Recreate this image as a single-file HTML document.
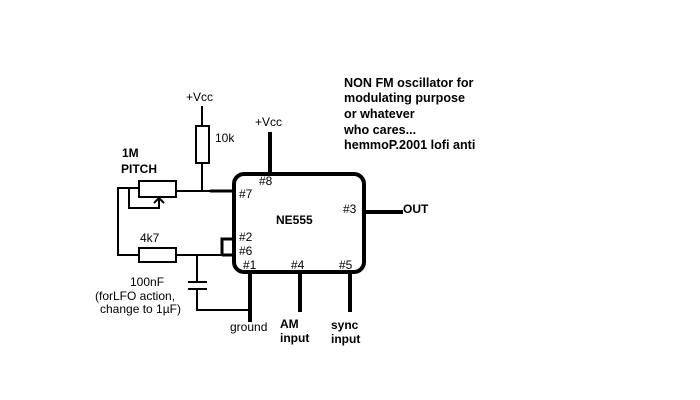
<!DOCTYPE html>
<html><head><meta charset="utf-8"><style>
html,body{margin:0;padding:0;background:#fff;}
svg{display:block;}
text{font-family:"Liberation Sans","DejaVu Sans",sans-serif;font-size:12px;fill:#000;}
.b{font-weight:bold;}
.t{font-size:12.6px;}
</style></head><body>
<svg width="700" height="400" viewBox="0 0 700 400" xmlns="http://www.w3.org/2000/svg">
<rect width="700" height="400" fill="#fff"/>
<g fill="none" stroke="#000">
<rect x="234" y="174" width="130" height="98" rx="10" ry="10" stroke-width="4"/>
<line x1="270" y1="132" x2="270" y2="174" stroke-width="4"/>
<line x1="364" y1="212" x2="403" y2="212" stroke-width="4"/>
<line x1="250" y1="272" x2="250" y2="322" stroke-width="4"/>
<line x1="300" y1="272" x2="300" y2="312" stroke-width="4"/>
<line x1="350" y1="272" x2="350" y2="312" stroke-width="4"/>
<line x1="202" y1="106" x2="202" y2="125" stroke-width="2"/>
<rect x="196" y="126" width="13" height="37" stroke-width="2"/>
<line x1="202" y1="163" x2="202" y2="191" stroke-width="2"/>
<rect x="139" y="181" width="37" height="16" stroke-width="2"/>
<line x1="176" y1="191" x2="210" y2="191" stroke-width="2"/>
<line x1="210" y1="191" x2="234" y2="191" stroke-width="3"/>
<polyline points="139,188 118,188 118,255 139,255" stroke-width="2"/>
<polyline points="129,188 129,208 159,208 159,199" stroke-width="2"/>
<polyline points="154,203 159,198 164,203" stroke-width="2"/>
<rect x="139" y="248" width="37" height="14" stroke-width="2"/>
<line x1="176" y1="255" x2="222" y2="255" stroke-width="2"/>
<polyline points="222,255 222,239 234,239" stroke-width="3"/>
<line x1="222" y1="255" x2="234" y2="255" stroke-width="3"/>
<line x1="197" y1="255" x2="197" y2="281" stroke-width="2"/>
<line x1="188" y1="282" x2="207" y2="282" stroke-width="2"/>
<line x1="188" y1="289" x2="207" y2="289" stroke-width="2"/>
<polyline points="197,290 197,310 251,310" stroke-width="2"/>
</g>
<text x="186" y="101">+Vcc</text>
<text x="255" y="126">+Vcc</text>
<text x="215" y="142">10k</text>
<text class="b" x="122" y="157">1M</text>
<text class="b" x="121" y="173">PITCH</text>
<text x="140" y="242">4k7</text>
<text x="130" y="286">100nF</text>
<text x="95" y="300">(forLFO action,</text>
<text x="100" y="313">change to 1µF)</text>
<text x="259" y="185">#8</text>
<text x="239" y="198">#7</text>
<text class="b" x="276" y="224">NE555</text>
<text x="343" y="213">#3</text>
<text x="239" y="241">#2</text>
<text x="239" y="255">#6</text>
<text x="243" y="269">#1</text>
<text x="291" y="269">#4</text>
<text x="339" y="269">#5</text>
<text class="b" x="403" y="213">OUT</text>
<text x="230" y="331">ground</text>
<text class="b" x="280" y="328">AM</text>
<text class="b" x="280" y="342">input</text>
<text class="b" x="331" y="329">sync</text>
<text class="b" x="331" y="343">input</text>
<text class="b t" x="344" y="87">NON FM oscillator for</text>
<text class="b t" x="344" y="102">modulating purpose</text>
<text class="b t" x="344" y="118">or whatever</text>
<text class="b t" x="344" y="134">who cares...</text>
<text class="b t" x="344" y="149">hemmoP.2001 lofi anti</text>
</svg>
</body></html>
